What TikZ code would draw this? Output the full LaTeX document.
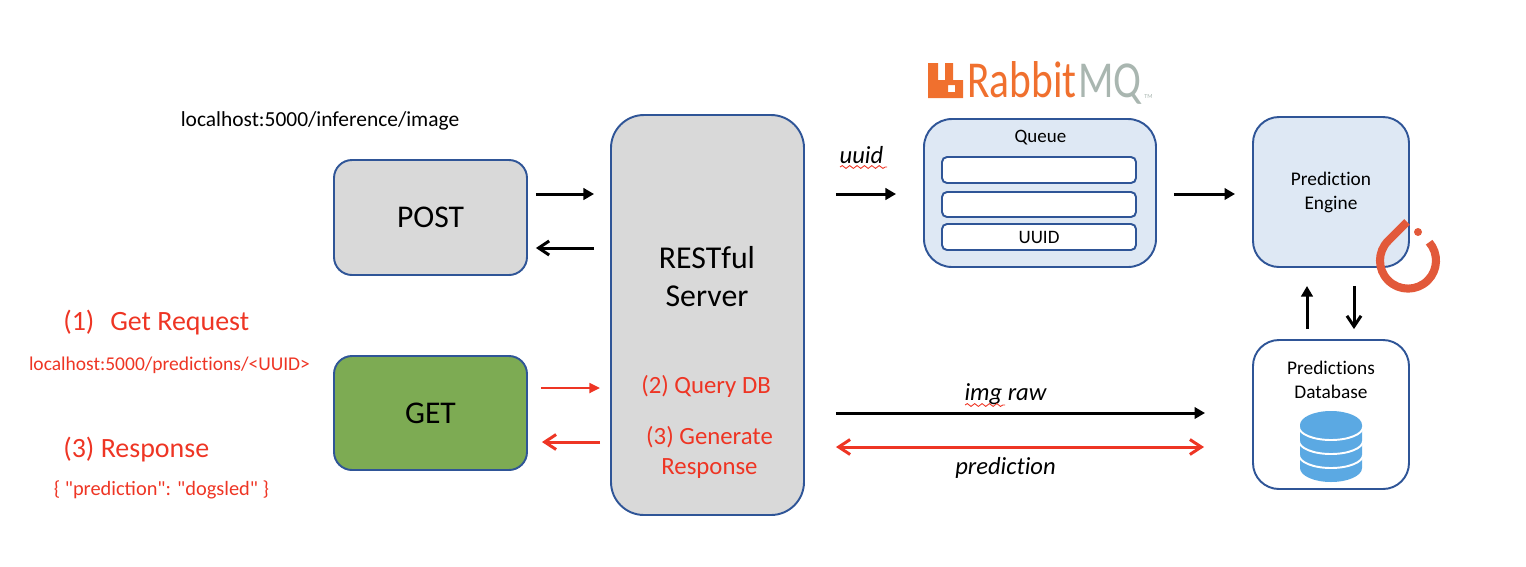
\documentclass[tikz,border=0pt]{standalone}
\usepackage{fontspec}
\setmainfont[Ligatures=NoCommon]{Carlito}
\newfontfamily\plainfont{Carlito}
\usetikzlibrary{arrows.meta,decorations.pathmorphing}
\definecolor{edgeblue}{HTML}{2F5597}
\definecolor{boxgray}{HTML}{D9D9D9}
\definecolor{boxgreen}{HTML}{7DAB53}
\definecolor{boxblue}{HTML}{DEE8F4}
\definecolor{redtxt}{HTML}{EE3524}
\definecolor{rabbit}{HTML}{F0702E}
\definecolor{mqgray}{HTML}{A9B6B0}
\definecolor{torch}{HTML}{E2593A}
\definecolor{dbblue}{HTML}{5BA9E3}
\newcommand{\px}{0.02cm}
\tikzset{
    box/.style={draw=edgeblue, line width=1.1pt, inner sep=0pt, align=center},
    lbl/.style={inner sep=0pt, align=center},
    blackarr/.style={line width=1.7pt, -{Triangle[length=6pt,width=6.5pt]}},
    backarr/.style={line width=1.7pt, -{Straight Barb[length=6pt,width=8pt]}},
    redarr/.style={redtxt, line width=1.5pt, -{Triangle[length=6pt,width=5.5pt]}},
    redback/.style={redtxt, line width=1.7pt, -{Straight Barb[length=6.5pt,width=8.5pt]}},
    squiggle/.style={redtxt, line width=.5pt, decorate, decoration={snake, amplitude=.8pt, segment length=4.2pt}},
}
\begin{document}
\begin{tikzpicture}[x=\px, y=-\px]
    \useasboundingbox (0,0) rectangle (1526,566);

    % Left boxes
    \node[box, fill=boxgray, rounded corners=18*\px, minimum width=193*\px, minimum height=115*\px, font=\fontsize{18}{20}\selectfont] (post) at (430.5,217.5) {POST};
    \node[box, fill=boxgreen, rounded corners=18*\px, minimum width=193*\px, minimum height=114*\px, font=\fontsize{18}{20}\selectfont] (get) at (430.5,413) {GET};

    % Server
    \node[box, fill=boxgray, rounded corners=33*\px, minimum width=193*\px, minimum height=400*\px] (server) at (707.5,315) {};
    \node[lbl, font=\fontsize{18.1}{21.6}\selectfont] (restful) at (707,277) {RESTful\\Server};
    \node[lbl, text=redtxt, font=\fontsize{14.1}{15}\selectfont] (querydb) at (706,386.5) {(2) Query DB};
    \node[lbl, text=redtxt, font=\fontsize{14.1}{17}\selectfont] (generate) at (709.5,452.5) {(3) Generate\\Response};

    % Queue
    \node[box, fill=boxblue, rounded corners=28*\px, minimum width=232*\px, minimum height=148*\px] (queue) at (1040,193) {};
    \node[lbl, font=\fontsize{10.8}{11}\selectfont] (queuelbl) at (1040.5,137.5) {Queue};
    \node[box, fill=white, rounded corners=5*\px, minimum width=194*\px, minimum height=26*\px] (slota) at (1039,170) {};
    \node[box, fill=white, rounded corners=5*\px, minimum width=194*\px, minimum height=25*\px] (slotb) at (1039,204.5) {};
    \node[box, fill=white, rounded corners=5*\px, minimum width=194*\px, minimum height=26*\px, font=\fontsize{10.8}{11}\selectfont] (slotc) at (1039,237) {UUID};

    % RabbitMQ logo
    \fill[rabbit, even odd rule] (928,63) -- (938,63) -- (938,80) -- (945,80) -- (945,63) -- (953,63)
        -- (953,80) -- (963,80) -- (963,98) -- (928,98) -- cycle
        (948,85) rectangle (955,92);
    \node[lbl, anchor=base west, font=\fontsize{29.5}{30}\selectfont] (rabbitlbl) at (967,97)
        {\scalebox{.8}[1]{\textcolor{rabbit}{Rabbit}\hspace{1pt}\textcolor{mqgray}{MQ}}};
    \node[lbl, anchor=base west, text=mqgray, font=\fontsize{3.5}{4}\selectfont] (tmlbl) at (1144,98) {TM};

    % Engine and database
    \node[box, fill=boxblue, rounded corners=26*\px, minimum width=156*\px, minimum height=150*\px, font=\fontsize{11}{13.6}\selectfont] (engine) at (1331,192) {Prediction\\Engine};
    \node[box, fill=white, rounded corners=26*\px, minimum width=156*\px, minimum height=149*\px] (database) at (1331,414.5) {};
    \node[lbl, font=\fontsize{11}{13.6}\selectfont] (dblbl) at (1331,380) {Predictions\\Database};

    % Database icon
    \fill[dbblue] (1300,425) arc[start angle=180, end angle=0, x radius=31, y radius=-14]
        -- (1362,468) arc[start angle=0, end angle=-180, x radius=31, y radius=-14] -- cycle;
    \foreach \i in {427, 441, 455} {
        \draw[white, line width=1.1pt] (1299,\i) arc[start angle=180, end angle=360, x radius=32, y radius=-13];
    }

    % PyTorch logo
    \draw[torch, line width=4.6pt] (1407,222) -- (1388.2,240.8)
        arc[start angle=-135, end angle=-401, radius=28];
    \fill[torch] (1418,232) circle (4);

    % Free labels
    \node[lbl, font=\fontsize{12.2}{14}\selectfont] (inflbl) at (320,120.5) {localhost:5000/inference/image};
    \node[lbl, text=redtxt, font=\fontsize{15.9}{18}\selectfont, anchor=west] (getreq) at (63,323) {(1)\hspace{9pt}Get Request};
    \node[lbl, text=redtxt, font=\fontsize{11.1}{13}\selectfont] (predurl) at (169.5,365.5) {localhost:5000/predictions/<UUID>};
    \node[lbl, text=redtxt, font=\fontsize{15.9}{18}\selectfont, anchor=west] (resp) at (63,450) {(3) Response};
    \node[lbl, text=redtxt, font=\fontsize{11.6}{13}\selectfont\plainfont] (resptxt) at (161.5,489.5) {\{ "prediction": "dogsled" \}};
    \node[lbl, font=\fontsize{14}{14}\selectfont\itshape] (uuidlbl) at (861.5,155) {uuid};
    \node[lbl, font=\fontsize{14}{14}\selectfont\itshape] (rawlbl) at (1005.5,394) {img raw};
    \node[lbl, font=\fontsize{14}{14}\selectfont\itshape] (predlbl) at (1005.5,468) {prediction};

    % Squiggles
    \coordinate (uuida) at (840,167);
    \coordinate (uuidb) at (887,167);
    \coordinate (rawa) at (965,405);
    \coordinate (rawb) at (1005,405);
    \draw[squiggle] (uuida) -- (uuidb);
    \draw[squiggle] (rawa) -- (rawb);

    % Arrows
    \draw[blackarr, shorten <=8*\px, shorten >=16*\px] (post.east |- 0,194) -- (server.west |- 0,194);
    \draw[backarr, shorten <=16*\px, shorten >=8*\px] (server.west |- 0,248) -- (post.east |- 0,248);
    \draw[redarr, shorten <=13*\px, shorten >=10*\px] (get.east |- 0,388) -- (server.west |- 0,388);
    \draw[redback, shorten <=10*\px, shorten >=14*\px] (server.west |- 0,442) -- (get.east |- 0,442);
    \draw[blackarr, shorten <=31*\px, shorten >=27*\px] (server.east |- 0,194) -- (queue.west |- 0,194);
    \draw[blackarr, shorten <=17*\px, shorten >=17*\px] (queue.east |- 0,194) -- (engine.west |- 0,194);
    \draw[blackarr, shorten <=10*\px, shorten >=18*\px] (database.north -| 1307,0) -- (engine.south -| 1307,0);
    \draw[backarr, shorten <=18*\px, shorten >=10*\px] (engine.south -| 1354,0) -- (database.north -| 1354,0);
    \draw[blackarr, shorten <=31*\px, shorten >=47*\px] (server.east |- 0,413) -- (database.west |- 0,413);
    \draw[redback, {Straight Barb[length=6.5pt,width=8.5pt]}-{Straight Barb[length=6.5pt,width=8.5pt]}, shorten <=31*\px, shorten >=48*\px] (server.east |- 0,447) -- (database.west |- 0,447);
\end{tikzpicture}
\end{document}
